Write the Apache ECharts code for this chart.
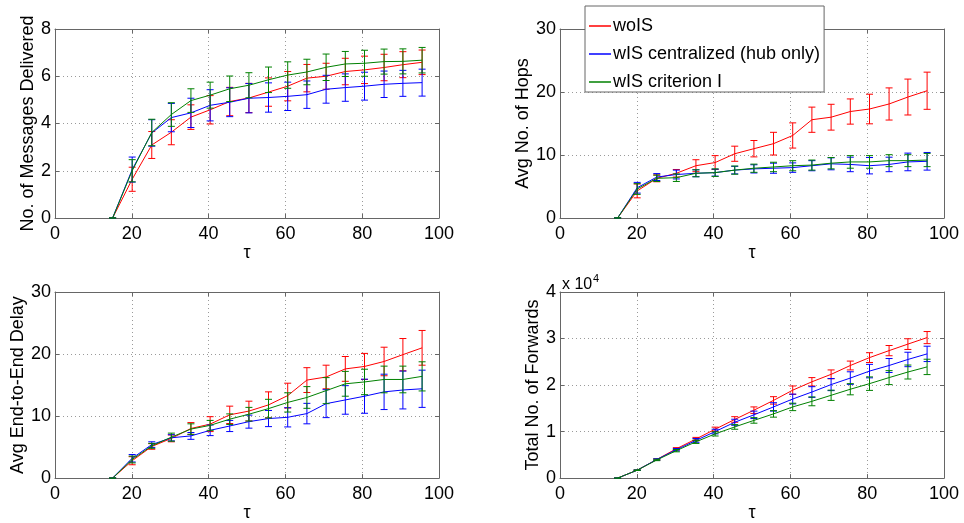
<!DOCTYPE html>
<html><head><meta charset="utf-8">
<script src="https://cdn.jsdelivr.net/npm/echarts@6/dist/echarts.min.js"></script>
<style>html,body{margin:0;padding:0;background:#fff}#c{width:964px;height:523px}</style>
</head><body><div id="c"></div>
<script>
// ---- data ----
const tau = [15, 20.1, 25.2, 30.3, 35.4, 40.4, 45.5, 50.5, 55.6, 60.6, 65.6, 70.6, 75.6, 80.6, 85.7, 90.6, 95.6];
const seriesNames = ['woIS', 'wIS centralized (hub only)', 'wIS criterion I'];
const xTickLabels = [0, 20, 40, 60, 80, 100];

// No. of Messages Delivered
const msgRed      = [0, 1.64, 3.09, 3.63, 4.27, 4.58, 4.93, 5.08, 5.33, 5.58, 5.92, 6.00, 6.20, 6.27, 6.37, 6.49, 6.59];
const msgRedErr   = [0, 0.51, 0.57, 0.53, 0.52, 0.60, 0.60, 0.62, 0.60, 0.62, 0.58, 0.55, 0.56, 0.58, 0.56, 0.55, 0.52];
const msgBlue     = [0, 2.05, 3.60, 4.25, 4.45, 4.77, 4.90, 5.07, 5.10, 5.15, 5.22, 5.45, 5.52, 5.58, 5.66, 5.70, 5.73];
const msgBlueErr  = [0, 0.53, 0.56, 0.60, 0.62, 0.66, 0.61, 0.62, 0.62, 0.60, 0.58, 0.59, 0.58, 0.59, 0.56, 0.55, 0.57];
const msgGreen    = [0, 2.00, 3.62, 4.38, 4.97, 5.20, 5.47, 5.62, 5.85, 6.05, 6.18, 6.38, 6.52, 6.55, 6.62, 6.63, 6.68];
const msgGreenErr = [0, 0.47, 0.56, 0.50, 0.50, 0.55, 0.54, 0.53, 0.54, 0.56, 0.54, 0.56, 0.53, 0.55, 0.53, 0.53, 0.54];
const msgTicks = [0, 2, 4, 6, 8];

// Avg No. of Hops
const hopRed      = [0, 4.3, 6.3, 7.1, 8.3, 8.8, 10.2, 11.0, 11.8, 13.1, 15.6, 16.0, 16.9, 17.3, 18.1, 19.2, 20.2];
const hopRedErr   = [0, 1.1, 0.55, 0.6, 0.95, 1.1, 1.2, 1.3, 1.8, 2.0, 2.0, 2.05, 2.0, 2.35, 2.55, 2.85, 2.95];
const hopBlue     = [0, 4.8, 6.5, 6.9, 7.1, 7.2, 7.6, 7.8, 7.9, 8.0, 8.3, 8.6, 8.5, 8.3, 8.5, 8.9, 9.0];
const hopBlueErr  = [0, 0.85, 0.55, 0.7, 0.55, 0.55, 0.6, 0.65, 0.8, 0.75, 0.8, 0.95, 1.15, 1.3, 1.15, 1.4, 1.4];
const hopGreen    = [0, 4.6, 6.3, 6.4, 7.1, 7.2, 7.6, 7.9, 8.1, 8.3, 8.4, 8.7, 8.9, 8.9, 9.1, 9.1, 9.2];
const hopGreenErr = [0, 0.85, 0.5, 0.6, 0.55, 0.6, 0.65, 0.65, 0.75, 0.8, 0.8, 0.9, 1.0, 1.0, 0.95, 0.95, 1.05];
const hopTicks = [0, 10, 20, 30];

// Avg End-to-End Delay
const delayRed      = [0, 2.8, 5.1, 6.4, 8.0, 8.7, 10.2, 10.8, 11.8, 13.3, 15.8, 16.3, 17.6, 18.0, 18.8, 19.9, 21.0];
const delayRedErr   = [0, 0.65, 0.45, 0.55, 0.95, 1.2, 1.4, 1.6, 2.1, 2.0, 2.0, 1.9, 2.0, 2.1, 2.3, 2.6, 2.8];
const delayBlue     = [0, 3.2, 5.4, 6.5, 6.8, 7.7, 8.4, 9.1, 9.6, 9.8, 10.4, 12.0, 12.6, 13.2, 13.9, 14.2, 14.4];
const delayBlueErr  = [0, 0.6, 0.45, 0.5, 0.55, 0.85, 0.9, 1.05, 1.3, 1.55, 1.65, 2.25, 2.3, 2.75, 2.85, 3.05, 3.0];
const delayGreen    = [0, 3.0, 5.2, 6.6, 7.9, 8.5, 9.5, 10.3, 11.2, 12.2, 13.0, 14.1, 15.2, 15.5, 15.9, 15.9, 16.4];
const delayGreenErr = [0, 0.55, 0.4, 0.65, 0.85, 0.8, 0.85, 1.1, 1.5, 1.55, 1.75, 2.1, 2.0, 2.05, 2.15, 2.15, 2.35];
const delayTicks = [0, 10, 20, 30];

// Total No. of Forwards
const fwdRed      = [0, 1700, 4000, 6300, 8400, 10500, 12600, 14600, 16700, 18900, 20700, 22300, 24200, 25900, 27400, 28800, 30200];
const fwdRedErr   = [0, 50, 150, 250, 350, 450, 600, 700, 800, 900, 900, 950, 950, 1050, 1100, 1150, 1300];
const fwdBlue     = [0, 1700, 4000, 6100, 8100, 10000, 12000, 13600, 15300, 17000, 18500, 20100, 21500, 23000, 24200, 25500, 26700];
const fwdBlueErr  = [0, 50, 150, 250, 400, 500, 650, 800, 900, 1050, 1150, 1300, 1350, 1450, 1500, 1550, 1650];
const fwdGreen    = [0, 1700, 3900, 5900, 7800, 9500, 11000, 12400, 13800, 15300, 16500, 17800, 19100, 20300, 21600, 22800, 23900];
const fwdGreenErr = [0, 50, 150, 250, 350, 450, 500, 600, 700, 800, 950, 1100, 1200, 1450, 1500, 1500, 1650];
const fwdTicks = [0, 10000, 20000, 30000, 40000];

// ---- chart ----
const FONT = '"Liberation Sans", Arial, Helvetica, sans-serif';
const COLORS = ['#ff0000', '#0000ff', '#008000'];
const AXC = '#666';

const panels = [
  { grid: {left: 55,  top: 29,  width: 384, height: 189}, ticks: msgTicks,   name: 'No. of Messages Delivered', gap: 16,
    vals: [msgRed, msgBlue, msgGreen], errs: [msgRedErr, msgBlueErr, msgGreenErr], fmt: v => v },
  { grid: {left: 560, top: 29,  width: 384, height: 189}, ticks: hopTicks,   name: 'Avg No. of Hops', gap: 26,
    vals: [hopRed, hopBlue, hopGreen], errs: [hopRedErr, hopBlueErr, hopGreenErr], fmt: v => v },
  { grid: {left: 55,  top: 292, width: 384, height: 189}, ticks: delayTicks, name: 'Avg End-to-End Delay', gap: 26,
    vals: [delayRed, delayBlue, delayGreen], errs: [delayRedErr, delayBlueErr, delayGreenErr], fmt: v => v },
  { grid: {left: 560, top: 292, width: 384, height: 189}, ticks: fwdTicks,   name: 'Total No. of Forwards', gap: 16,
    vals: [fwdRed, fwdBlue, fwdGreen], errs: [fwdRedErr, fwdBlueErr, fwdGreenErr], fmt: v => v / 10000 }
];

const grids = [], xAxes = [], yAxes = [], series = [];
const labelStyle = {color: '#000', fontSize: 18, fontFamily: FONT};

panels.forEach((p, g) => {
  grids.push(p.grid);
  const xmin = xTickLabels[0], xmax = xTickLabels[xTickLabels.length - 1];
  const xint = xTickLabels[1] - xTickLabels[0];
  const ymin = p.ticks[0], ymax = p.ticks[p.ticks.length - 1], yint = p.ticks[1] - p.ticks[0];
  const common = {
    type: 'value', gridIndex: g,
    axisLine: {show: true, onZero: false, lineStyle: {color: AXC, width: 1}},
    axisTick: {show: true, inside: true, length: 4, lineStyle: {color: AXC}}
  };
  xAxes.push(Object.assign({}, common, {
    position: 'bottom', min: xmin, max: xmax, interval: xint,
    axisLabel: Object.assign({margin: 7}, labelStyle),
    splitLine: {show: true, lineStyle: {type: [1, 3], color: '#9a9a9a'}},
    name: 'τ', nameLocation: 'middle', nameGap: 24,
    nameTextStyle: Object.assign({}, labelStyle)
  }));
  xAxes.push(Object.assign({}, common, {
    position: 'top', min: xmin, max: xmax, interval: xint,
    axisLabel: {show: false}, splitLine: {show: false}
  }));
  yAxes.push(Object.assign({}, common, {
    position: 'left', min: ymin, max: ymax, interval: yint,
    axisLabel: Object.assign({margin: 4, formatter: p.fmt}, labelStyle),
    splitLine: {show: true, lineStyle: {type: [1, 3], color: '#9a9a9a'}},
    name: p.name, nameLocation: 'middle', nameGap: p.gap,
    nameTextStyle: Object.assign({}, labelStyle)
  }));
  yAxes.push(Object.assign({}, common, {
    position: 'right', min: ymin, max: ymax, interval: yint,
    axisLabel: {show: false}, splitLine: {show: false}
  }));

  for (let s = 0; s < 3; s++) {
    const color = COLORS[s];
    const v = p.vals[s], e = p.errs[s];
    series.push({
      type: 'custom', name: seriesNames[s] + ' error', xAxisIndex: 2 * g, yAxisIndex: 2 * g,
      silent: true, animation: false, z: 3 + s,
      data: tau.map((t, k) => [t, v[k] - e[k], v[k] + e[k]]),
      encode: {x: 0, y: [1, 2]},
      renderItem: (params, api) => {
        const x = api.value(0);
        const top = api.coord([x, api.value(2)]);
        const bot = api.coord([x, api.value(1)]);
        const hw = 3.5;
        const st = {stroke: color, lineWidth: 1};
        return {type: 'group', children: [
          {type: 'line', shape: {x1: top[0], y1: top[1], x2: bot[0], y2: bot[1]}, style: st},
          {type: 'line', shape: {x1: top[0] - hw, y1: top[1], x2: top[0] + hw, y2: top[1]}, style: st},
          {type: 'line', shape: {x1: bot[0] - hw, y1: bot[1], x2: bot[0] + hw, y2: bot[1]}, style: st}
        ]};
      }
    });
    series.push({
      type: 'line', name: seriesNames[s], xAxisIndex: 2 * g, yAxisIndex: 2 * g,
      data: tau.map((t, k) => [t, v[k]]),
      symbol: 'none', animation: false, z: 3 + s,
      lineStyle: {color: color, width: 1}, itemStyle: {color: color}
    });
  }
});

const chart = echarts.init(document.getElementById('c'), null, {renderer: 'canvas'});
chart.setOption({
  backgroundColor: '#fff',
  animation: false,
  grid: grids,
  xAxis: xAxes,
  yAxis: yAxes,
  legend: {
    data: seriesNames.map(n => ({name: n, icon: 'rect'})), orient: 'vertical', left: 585, top: 6,
    backgroundColor: '#fff', borderColor: AXC, borderWidth: 1,
    padding: [11, 4, 1, 4], itemGap: 10, itemWidth: 22, itemHeight: 1.5,
    selectedMode: false,
    textStyle: {color: '#000', fontSize: 18, fontFamily: FONT, padding: [0, 0, 0, -3]}
  },
  graphic: [
    {type: 'text', x: 562, y: 285, style: {text: 'x 10', font: '16px ' + FONT, fill: '#000', verticalAlign: 'middle'}},
    {type: 'text', x: 593, y: 279, style: {text: '4', font: '11px ' + FONT, fill: '#000', verticalAlign: 'middle'}}
  ],
  series: series
});
</script>
</body></html>
